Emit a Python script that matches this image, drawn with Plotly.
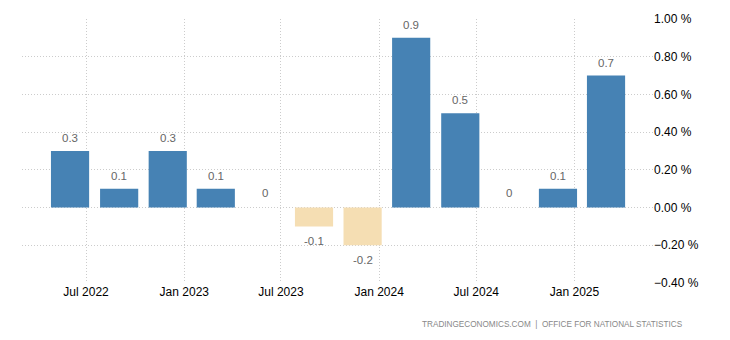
import plotly.graph_objects as go

dates = ["2022-06-01", "2022-09-01", "2022-12-01", "2023-03-01", "2023-06-01", "2023-09-01",
         "2023-12-01", "2024-03-01", "2024-06-01", "2024-09-01", "2024-12-01", "2025-03-01"]
values = [0.3, 0.1, 0.3, 0.1, 0.0, -0.1, -0.2, 0.9, 0.5, 0.0, 0.1, 0.7]
labels = ["0.3", "0.1", "0.3", "0.1", "0", "-0.1", "-0.2", "0.9", "0.5", "0", "0.1", "0.7"]

POS = "#4682B4"
NEG = "#F5DEB3"
colors = [POS if v >= 0 else NEG for v in values]
DAY = 86400000

fig = go.Figure()
fig.add_trace(go.Bar(x=dates, y=values, marker_color=colors, marker_line_width=0,
                     width=[71.5 * DAY] * len(dates), hoverinfo="skip"))

lab_font = dict(family="Liberation Sans, Arial", size=11.5, color="#666666")
for d, v, t in zip(dates, values, labels):
    if v >= 0:
        fig.add_annotation(x=d, y=v, text=t, showarrow=False, yanchor="bottom",
                           yshift=5 if v > 0 else 7, font=lab_font)
    else:
        fig.add_annotation(x=d, y=v, text=t, showarrow=False, yanchor="top",
                           yshift=-7, font=lab_font)

fig.add_annotation(xref="paper", yref="paper", x=1.0507, y=-0.159, xanchor="right", yanchor="middle",
                   text="TRADINGECONOMICS.COM  |  OFFICE FOR NATIONAL STATISTICS", showarrow=False,
                   font=dict(family="Liberation Sans, Arial", size=8.2, color="#888888"))

grid = dict(showgrid=True, gridcolor="#cccccc", griddash="1px,2px", gridwidth=1)

fig.update_layout(
    width=730, height=340,
    margin=dict(l=22, r=77, t=19, b=57),
    paper_bgcolor="white", plot_bgcolor="white",
    showlegend=False,
    font=dict(family="Liberation Sans, Arial", size=12, color="#000000"),
    xaxis=dict(type="date", range=["2022-03-03", "2025-05-28"], tick0="2022-07-01", dtick="M6",
               tickformat="%b %Y", zeroline=False, showline=False, ticks="",
               tickfont=dict(size=12, color="#000000"), **grid),
    yaxis=dict(side="right", range=[-0.4, 1.0], dtick=0.2, tick0=0, tickformat=".2f", ticksuffix=" %",
               zeroline=False, showline=False, ticks="",
               tickfont=dict(size=12, color="#000000"), **grid),
)

fig.write_html("out.html")
